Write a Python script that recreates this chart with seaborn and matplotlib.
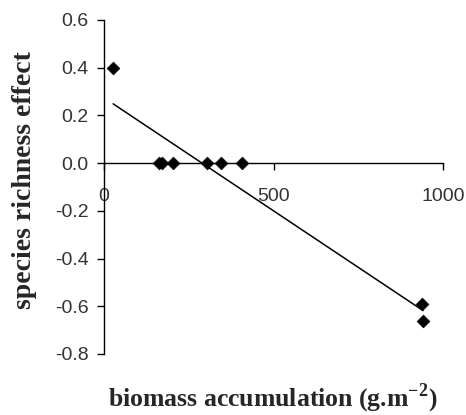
import matplotlib
matplotlib.use("Agg")
import matplotlib.pyplot as plt
import seaborn as sns
import pandas as pd

biomass = [27, 163, 171, 204, 304, 346, 407, 937, 941]
richness_effect = [0.40, 0.0, 0.0, 0.0, 0.0, 0.0, 0.0, -0.59, -0.66]
x_ticks = [0, 500, 1000]
y_ticks = [-0.8, -0.6, -0.4, -0.2, 0.0, 0.2, 0.4, 0.6]

df = pd.DataFrame({"biomass": biomass, "effect": richness_effect})

sns.set_style("white")
plt.rcParams["font.family"] = ["Liberation Sans", "DejaVu Sans"]
plt.rcParams["mathtext.fontset"] = "custom"
plt.rcParams["mathtext.rm"] = "Liberation Serif"
plt.rcParams["mathtext.bf"] = "Liberation Serif:bold"

fig = plt.figure(figsize=(4.66, 4.15), dpi=100)
ax = fig.add_axes([104 / 466, 1 - 354 / 415, (443 - 104) / 466, (354 - 20) / 415])

sns.regplot(data=df, x="biomass", y="effect", ax=ax, ci=None, truncate=True,
            marker="D", scatter_kws=dict(s=42, color="black", alpha=1, edgecolors="black",
                                         linewidths=0.5, zorder=3),
            line_kws=dict(color="black", lw=1.1))

ax.set_xlim(0, 1000)
ax.set_ylim(-0.8, 0.6)
ax.set_xticks(x_ticks)
ax.set_yticks(y_ticks)
ax.set_xticklabels([str(t) for t in x_ticks])
ax.set_yticklabels([f"{t:.1f}" for t in y_ticks])

for s in ["top", "right"]:
    ax.spines[s].set_visible(False)
ax.spines["bottom"].set_position(("data", 0))
for s in ["left", "bottom"]:
    ax.spines[s].set_color("black")
    ax.spines[s].set_linewidth(1.0)

ax.tick_params(axis="y", direction="out", length=5, width=1, color="black", pad=6,
               labelsize=14, labelcolor="#333333", left=True)
ax.tick_params(axis="x", direction="out", length=5, width=1, color="black", pad=13,
               labelsize=14, labelcolor="#333333", bottom=True)

ax.set_xlabel("")
ax.set_ylabel("")
fig.text(273 / 466, 1 - 406 / 415, r"biomass accumulation (g.m$^{\mathbf{-2}}$)", ha="center", va="baseline",
         fontsize=18.5, fontweight="bold", family="Liberation Serif")
fig.text(25 / 466, 1 - 180 / 415, "species richness effect", ha="center", va="center",
         rotation=90, fontsize=20, fontweight="bold", family="Liberation Serif")

fig.savefig("out.png", dpi=100, facecolor="white")
